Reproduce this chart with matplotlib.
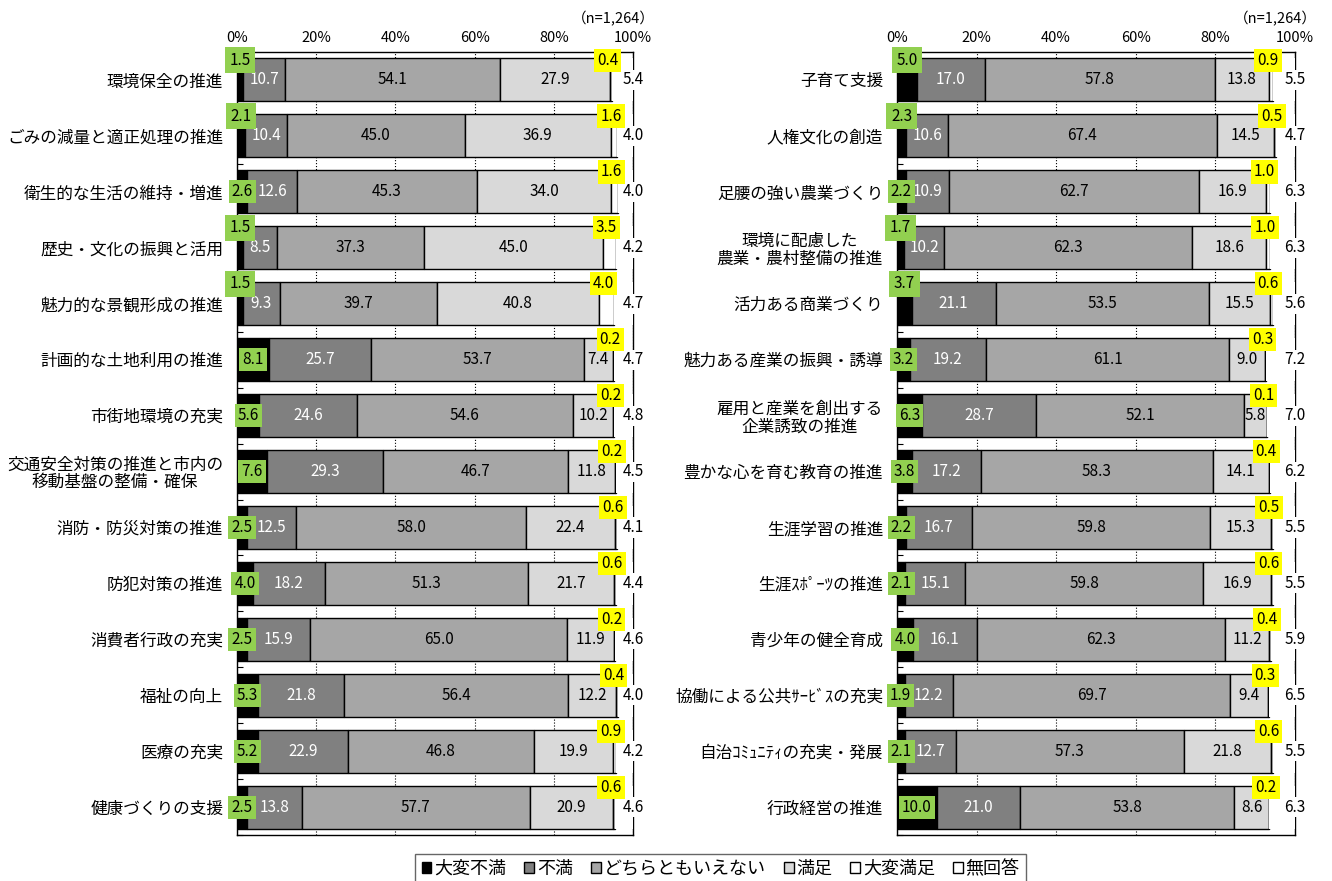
import numpy as np
import matplotlib
matplotlib.use("Agg")
import matplotlib.pyplot as plt
from matplotlib.patches import Patch

plt.rcParams['font.family'] = ['Noto Sans CJK JP', 'DejaVu Sans']

# 凡例と色
series = ['大変不満', '不満', 'どちらともいえない', '満足', '大変満足', '無回答']
colors = ['#000000', '#808080', '#a6a6a6', '#d9d9d9', '#ffffff', '#ffffff']

# 左側の項目
left_cats = ['環境保全の推進', 'ごみの減量と適正処理の推進', '衛生的な生活の維持・増進',
             '歴史・文化の振興と活用', '魅力的な景観形成の推進', '計画的な土地利用の推進',
             '市街地環境の充実', '交通安全対策の推進と市内の\n移動基盤の整備・確保',
             '消防・防災対策の推進', '防犯対策の推進', '消費者行政の充実', '福祉の向上',
             '医療の充実', '健康づくりの支援']
left_vals = [
    [1.5, 2.1, 2.6, 1.5, 1.5, 8.1, 5.6, 7.6, 2.5, 4.0, 2.5, 5.3, 5.2, 2.5],
    [10.7, 10.4, 12.6, 8.5, 9.3, 25.7, 24.6, 29.3, 12.5, 18.2, 15.9, 21.8, 22.9, 13.8],
    [54.1, 45.0, 45.3, 37.3, 39.7, 53.7, 54.6, 46.7, 58.0, 51.3, 65.0, 56.4, 46.8, 57.7],
    [27.9, 36.9, 34.0, 45.0, 40.8, 7.4, 10.2, 11.8, 22.4, 21.7, 11.9, 12.2, 19.9, 20.9],
    [0.4, 1.6, 1.6, 3.5, 4.0, 0.2, 0.2, 0.2, 0.6, 0.6, 0.2, 0.4, 0.9, 0.6],
    [5.4, 4.0, 4.0, 4.2, 4.7, 4.7, 4.8, 4.5, 4.1, 4.4, 4.6, 4.0, 4.2, 4.6],
]

# 右側の項目
right_cats = ['子育て支援', '人権文化の創造', '足腰の強い農業づくり',
              '環境に配慮した\n農業・農村整備の推進', '活力ある商業づくり',
              '魅力ある産業の振興・誘導', '雇用と産業を創出する\n企業誘致の推進',
              '豊かな心を育む教育の推進', '生涯学習の推進', '生涯ｽﾎﾟｰﾂの推進',
              '青少年の健全育成', '協働による公共ｻｰﾋﾞｽの充実', '自治ｺﾐｭﾆﾃｨの充実・発展',
              '行政経営の推進']
right_vals = [
    [5.0, 2.3, 2.2, 1.7, 3.7, 3.2, 6.3, 3.8, 2.2, 2.1, 4.0, 1.9, 2.1, 10.0],
    [17.0, 10.6, 10.9, 10.2, 21.1, 19.2, 28.7, 17.2, 16.7, 15.1, 16.1, 12.2, 12.7, 21.0],
    [57.8, 67.4, 62.7, 62.3, 53.5, 61.1, 52.1, 58.3, 59.8, 59.8, 62.3, 69.7, 57.3, 53.8],
    [13.8, 14.5, 16.9, 18.6, 15.5, 9.0, 5.8, 14.1, 15.3, 16.9, 11.2, 9.4, 21.8, 8.6],
    [0.9, 0.5, 1.0, 1.0, 0.6, 0.3, 0.1, 0.4, 0.5, 0.6, 0.4, 0.3, 0.6, 0.2],
    [5.5, 4.7, 6.3, 6.3, 5.6, 7.2, 7.0, 6.2, 5.5, 5.5, 5.9, 6.5, 5.5, 6.3],
]

# 緑ラベルをバーの上に出す行
left_raised = [0, 1, 3, 4]
right_raised = [0, 1, 3, 4]

bar_h = 0.77


def draw_panel(ax, cats, vals, raised):
    y = np.arange(len(cats))
    vals = np.array(vals)
    left = np.zeros(len(cats))
    for i, (name, c) in enumerate(zip(series, colors)):
        lw = 0 if i == 5 else 1.0
        ax.barh(y, vals[i], left=left, height=bar_h, color=c,
                edgecolor='black', linewidth=lw, zorder=3)
        for j in range(len(cats)):
            v = vals[i][j]
            cx = left[j] + v / 2
            txt = f'{v:.1f}'
            if i == 0:
                up = j in raised
                yy = y[j] - bar_h / 2 + 0.03 if up else y[j]
                ax.text(cx, yy, txt, ha='center', va='center', fontsize=11,
                        zorder=5, bbox=dict(boxstyle='square,pad=%s' % (0.3 if up else 0.2),
                                            fc='#92d050', ec='none'))
            elif i in (1, 2, 3):
                ax.text(cx, y[j], txt, ha='center', va='center', fontsize=11,
                        color='white' if i == 1 else 'black', zorder=4)
            elif i == 4:
                ax.text(cx - 0.8, y[j] - bar_h / 2 + 0.03, txt, ha='center',
                        va='center', fontsize=11, zorder=5,
                        bbox=dict(boxstyle='square,pad=0.2', fc='#ffff00', ec='none'))
            else:
                ax.text(100, y[j], txt, ha='center', va='center', fontsize=11,
                        zorder=4, bbox=dict(boxstyle='square,pad=0.1', fc='white', ec='none'))
        left = left + vals[i]

    ax.set_xlim(0, 100)
    ax.set_ylim(len(cats) - 0.5, -0.5)
    ax.set_yticks(y)
    ax.set_yticklabels(cats, fontsize=12, multialignment='center', linespacing=1.05)
    ax.set_yticks(np.arange(len(cats) + 1) - 0.5, minor=True)
    ax.tick_params(axis='y', which='major', length=0, pad=10)
    ax.tick_params(axis='y', which='minor', direction='in', length=4, width=0.8)
    ax.set_xticks(np.arange(0, 101, 20))
    ax.set_xticklabels([f'{t}%' for t in range(0, 101, 20)], fontsize=10.5)
    ax.xaxis.tick_top()
    ax.tick_params(axis='x', length=0, pad=5)
    ax.grid(axis='x', linestyle=':', color='black', linewidth=0.8, zorder=0)
    for s in ax.spines.values():
        s.set_linewidth(1.0)
    ax.text(1.055, 1.043, '（n=1,264）', transform=ax.transAxes, ha='right',
            va='center', fontsize=10.5)


fig = plt.figure(figsize=(13.32, 8.81), dpi=100)
ax1 = fig.add_axes([0.178, 0.052, 0.2973, 0.889])
ax2 = fig.add_axes([0.6734, 0.052, 0.2988, 0.889])
draw_panel(ax1, left_cats, left_vals, left_raised)
draw_panel(ax2, right_cats, right_vals, right_raised)

handles = [Patch(facecolor=c, edgecolor='black', linewidth=1.0) for c in colors]
leg = fig.legend(handles, series, loc='lower center', bbox_to_anchor=(0.541, -0.014),
                 ncol=6, fontsize=13, frameon=True, fancybox=False,
                 handlelength=0.55, handleheight=0.55, handletextpad=0.15,
                 columnspacing=1.0, borderpad=0.35)
leg.get_frame().set_edgecolor('#404040')
leg.get_frame().set_linewidth(1.0)

fig.savefig('out.png', dpi=100)
